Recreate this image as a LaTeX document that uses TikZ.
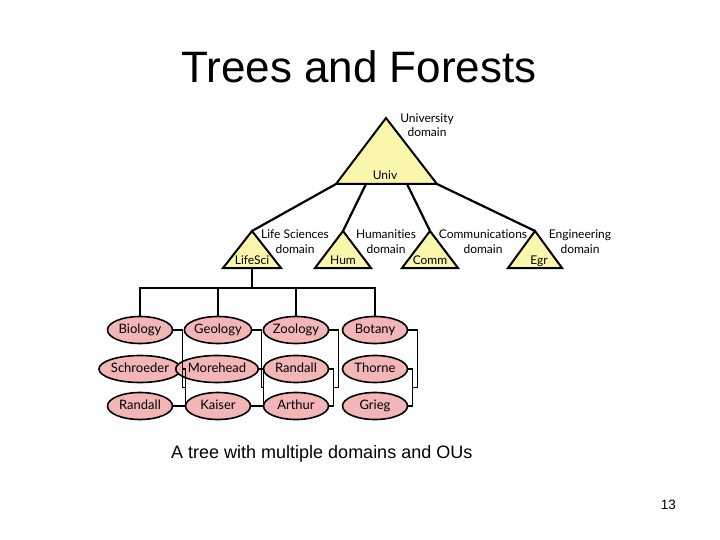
\documentclass[tikz,border=0pt]{standalone}
\usepackage{fontspec}
\setmainfont{Liberation Sans}
\newfontfamily\diagfont[Ligatures=NoCommon]{Lato}
\usetikzlibrary{shapes.geometric}
\definecolor{triyellow}{RGB}{250,246,172}
\definecolor{oupink}{RGB}{242,182,182}

\begin{document}
\begin{tikzpicture}[x=1pt,y=-1pt,
    tri/.style={draw,fill=triyellow,line width=2pt,line join=miter},
    link/.style={line width=2.2pt},
    ou/.style={ellipse,draw,fill=oupink,line width=1.6pt,minimum width=65pt,minimum height=27pt,inner sep=0pt,
        text height=9pt,text depth=3pt,font=\diagfont\fontsize{13}{14}\selectfont},
    lbl/.style={font=\diagfont\fontsize{12}{14.5}\selectfont,align=center,inner sep=0pt,anchor=base},
    bracket/.style={line width=1.1pt}]
    \useasboundingbox (0,0) rectangle (720,540);

    % title and captions
    \node [anchor=base,font=\fontsize{44}{50}\selectfont] (title) at (359,83) {Trees and Forests};
    \node [anchor=base west,font=\fontsize{18}{20}\selectfont,inner sep=0pt] (caption) at (171,458) {A tree with multiple domains and OUs};
    \node [anchor=base east,font=\fontsize{13.5}{15}\selectfont,inner sep=0pt] (page) at (676,509) {13};

    % university domain
    \coordinate (univ-a) at (386,118);
    \coordinate (univ-l) at (336,184);
    \coordinate (univ-r) at (437,184);
    \coordinate (univ-h) at (366,184);
    \coordinate (univ-c) at (407,184);
    \filldraw [tri] (univ-a) -- (univ-r) -- (univ-l) -- cycle;
    \node [lbl] (univ) at (385,180) {Univ};
    \node [lbl] (univ-dom) at (427,137) {University\\domain};

    % child domains
    \foreach \n/\x/\w in {lifesci/252/29, hum/343/28, comm/430/28, egr/535/27}{
        \coordinate (\n) at (\x,231);
        \filldraw [tri] (\n) -- ++(\w,37) -- ++(-2*\w,0) -- cycle;
    }
    \node [lbl] (lifesci-t) at (252,264) {LifeSci};
    \node [lbl] (hum-t) at (343,264) {Hum};
    \node [lbl] (comm-t) at (430,264) {Comm};
    \node [lbl] (egr-t) at (539,264) {Egr};
    \node [lbl] (lifesci-dom) at (295,253) {Life Sciences\\domain};
    \node [lbl] (hum-dom) at (386,253) {Humanities\\domain};
    \node [lbl] (comm-dom) at (483,253) {Communications\\domain};
    \node [lbl] (egr-dom) at (580,253) {Engineering\\domain};

    \draw [link] (univ-l) -- (lifesci);
    \draw [link] (univ-h) -- (hum);
    \draw [link] (univ-c) -- (comm);
    \draw [link] (univ-r) -- (egr);

    % OUs under LifeSci
    \node [ou] (bio) at (140,330) {Biology};
    \node [ou] (geo) at (218,330) {Geology};
    \node [ou] (zoo) at (296,330) {Zoology};
    \node [ou] (bot) at (375,330) {Botany};
    \node [ou] (schroeder) at (140,369) {Schroeder};
    \node [ou] (morehead) at (217,369) {Morehead};
    \node [ou] (randall1) at (296,369) {Randall};
    \node [ou] (thorne) at (375,369) {Thorne};
    \node [ou] (randall2) at (140,406) {Randall};
    \node [ou] (kaiser) at (218,406) {Kaiser};
    \node [ou] (arthur) at (296,406) {Arthur};
    \node [ou] (grieg) at (375,406) {Grieg};

    \coordinate (lifesci-b) at (252,268);
    \coordinate (bar) at (252,288);
    \draw [link] (lifesci-b) -- (bar);
    \foreach \n in {bio,geo,zoo,bot}
        \draw [link] (bar) -| (\n);

    % users grouped under each OU
    \foreach \t/\u/\v in {bio/schroeder/randall2, geo/morehead/kaiser, zoo/randall1/arthur, bot/thorne/grieg}{
        \draw [bracket] (\u.east) -- ++(4,0) |- coordinate[pos=0.25] (\u-j) (\v.east);
        \draw [bracket] (\t.east) -- ++(9,0) |- (\u-j);
    }
\end{tikzpicture}
\end{document}
